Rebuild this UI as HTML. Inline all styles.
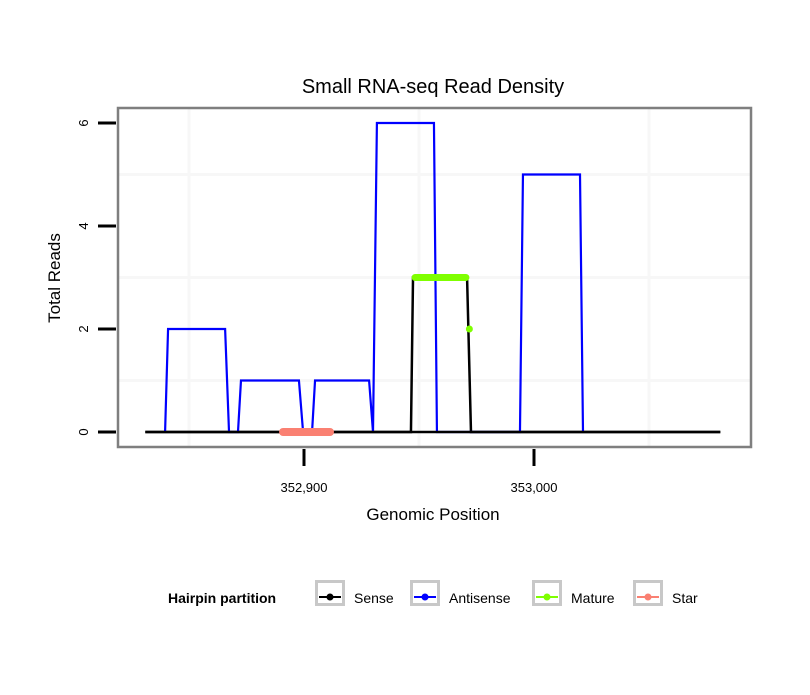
<!DOCTYPE html>
<html><head><meta charset="utf-8"><style>
body{margin:0;background:#fff;}
svg text{font-family:"Liberation Sans",sans-serif;}
</style></head><body>
<svg id="c" width="810" height="690" viewBox="0 0 810 690">
<rect x="0" y="0" width="810" height="690" fill="#fff"/>
<text x="433" y="93" font-size="20" text-anchor="middle">Small RNA-seq Read Density</text>
<g id="grid"></g>
<g id="series"></g>
<rect x="118" y="108" width="633" height="339" fill="none" stroke="#7f7f7f" stroke-width="2.5"/>
<g id="axes"></g>
<text x="433" y="520" font-size="17" text-anchor="middle">Genomic Position</text>
<text transform="translate(60,278) rotate(-90)" font-size="17" text-anchor="middle">Total Reads</text>
<g>
<text x="168" y="603" font-size="14" font-weight="bold">Hairpin partition</text>
<g id="legend"></g>
</g>
</svg>
<script>
const xTicks=[352900,353000];
const xTickLabels=["352,900","353,000"];
const yTicks=[0,2,4,6];
const senseX=[352831,352946.5,352947.4,352970.9,352972.6,353081];
const senseY=[0,0,3,3,0,0];
const antiX=[352839.6,352840.9,352865.7,352867.4,352871.3,352872.6,352897.8,352899.6,352903.5,352904.8,352928.3,352930,352931.7,352956.5,352957.8,352993.9,352995.2,353020,353021.3];
const antiY=[0,2,2,0,0,1,1,0,0,1,1,0,6,6,0,0,5,5,0];
const matureX=[352948.3,352970.4];
const matureY=[3,3];
const maturePtX=[352971.9];
const maturePtY=[2];
const starX=[352890.9,352911.3];
const starY=[0,0];
const legendNames=["Sense","Antisense","Mature","Star"];
const legendColors=["#000000","#0000ff","#7fff00","#fa8072"];

const NS="http://www.w3.org/2000/svg";
const X=v=>304+(v-352900)*2.3;
const Y=v=>432-v*51.5;
function mk(tag,attrs,parent){const e=document.createElementNS(NS,tag);for(const k in attrs)e.setAttribute(k,attrs[k]);parent.appendChild(e);return e;}
const grid=document.getElementById('grid'),ser=document.getElementById('series'),ax=document.getElementById('axes'),leg=document.getElementById('legend');
[352850,352950,353050].forEach(v=>{const l=mk('line',{x1:X(v),x2:X(v),y1:109,y2:446,stroke:'#f7f7f7','stroke-width':3},grid);

});
[1,3,5].forEach(v=>{const l=mk('line',{x1:119,x2:750,y1:Y(v),y2:Y(v),stroke:'#f7f7f7','stroke-width':3},grid);

});
function pts(xs,ys){return xs.map((x,i)=>X(x)+','+Y(ys[i])).join(' ');}
let p=mk('polyline',{points:pts(senseX,senseY),fill:'none',stroke:'#000','stroke-width':2.5},ser);


p=mk('polyline',{points:pts(antiX,antiY),fill:'none',stroke:'#0000ff','stroke-width':2.2},ser);


p=mk('polyline',{points:pts(senseX.slice(0,2),senseY.slice(0,2))+' '+pts(senseX.slice(4),senseY.slice(4)),fill:'none',stroke:'#000','stroke-width':2.5},ser);


p=mk('polyline',{points:pts(matureX,matureY),fill:'none',stroke:'#7fff00','stroke-width':7,'stroke-linecap':'round'},ser);


maturePtX.forEach((x,i)=>{const c=mk('circle',{cx:X(x),cy:Y(maturePtY[i]),r:3.5,fill:'#7fff00'},ser);

});
p=mk('polyline',{points:pts(starX,starY),fill:'none',stroke:'#fa8072','stroke-width':8,'stroke-linecap':'round'},ser);


yTicks.forEach(v=>{const t=mk('line',{x1:98,x2:116,y1:Y(v),y2:Y(v),stroke:'#000','stroke-width':3},ax);


const tx=mk('text',{transform:`translate(88,${Y(v)}) rotate(-90)`,'font-size':13,'text-anchor':'middle'},ax);tx.textContent=v;

});
xTicks.forEach((v,i)=>{const t=mk('line',{x1:X(v),x2:X(v),y1:449,y2:466,stroke:'#000','stroke-width':3},ax);


const tx=mk('text',{x:X(v),y:492,'font-size':13,'text-anchor':'middle'},ax);tx.textContent=xTickLabels[i];

});
const keyX=[315,410,532,633];
legendNames.forEach((n,i)=>{const g=mk('g',{},leg);


mk('rect',{x:keyX[i]+1.5,y:581.5,width:27,height:23,fill:'#fff',stroke:'#c8c8c8','stroke-width':3},g);
mk('line',{x1:keyX[i]+4,x2:keyX[i]+26,y1:597,y2:597,stroke:legendColors[i],'stroke-width':2},g);
mk('circle',{cx:keyX[i]+15,cy:597,r:3.5,fill:legendColors[i]},g);
const t=mk('text',{x:keyX[i]+39,y:603,'font-size':14},g);t.textContent=n;});
</script>
</body></html>
